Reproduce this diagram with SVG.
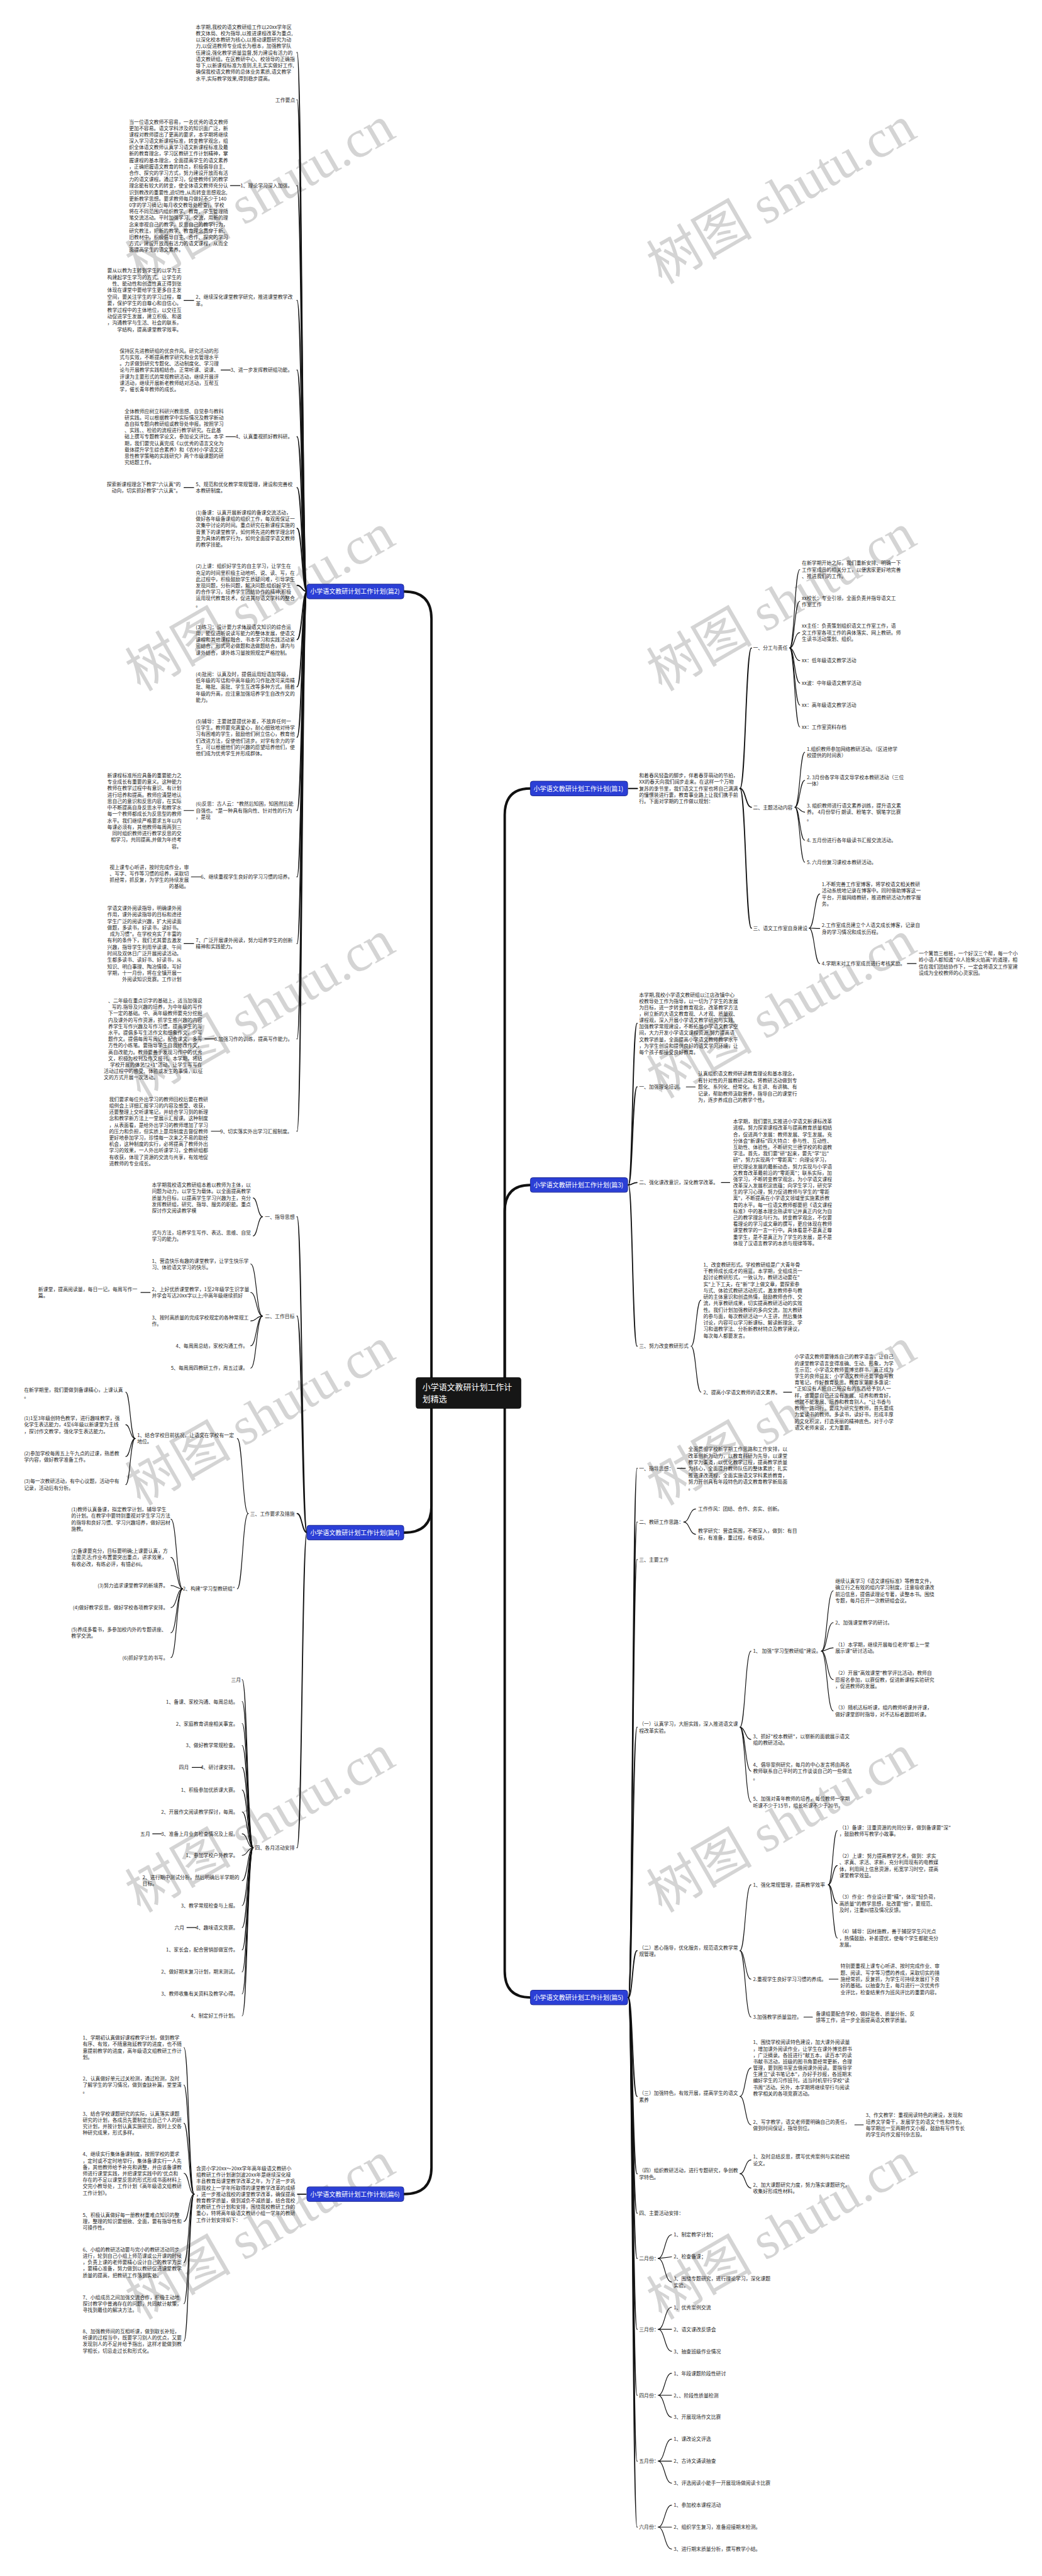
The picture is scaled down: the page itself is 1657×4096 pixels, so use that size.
<svg xmlns="http://www.w3.org/2000/svg" width="1657" height="4096" viewBox="0 0 1657 4096">
<style>
.t{font-family:"Noto Sans CJK SC","Noto Sans",sans-serif;font-size:12.2px;fill:#262626}
.e{text-anchor:end}
.nt{font-family:"Noto Sans CJK SC",sans-serif;font-size:15.5px;fill:#fff}
.ct{font-family:"Noto Sans CJK SC",sans-serif;font-size:20px;fill:#fff}
.bn{fill:#2b3fd6;stroke:#1b2790;stroke-width:1.5}
.cn{fill:#161616;stroke:#000;stroke-width:1}
.wm{font-family:"Liberation Serif","Noto Sans CJK SC",serif;font-size:130px;fill:#d4d4d4}
.l1{fill:none;stroke:#111;stroke-width:6;stroke-linecap:round}
.l2{fill:none;stroke:#111;stroke-width:2.8;stroke-linecap:round}
.l3{fill:none;stroke:#111;stroke-width:1.8;stroke-linecap:round}
</style>
<rect width="1657" height="4096" fill="#fff"/>
<g transform="scale(0.64727)">
<g id="watermarks">
<text class="wm" transform="translate(345,700) rotate(-30)">树图 shutu.cn</text>
<text class="wm" transform="translate(345,1700) rotate(-30)">树图 shutu.cn</text>
<text class="wm" transform="translate(345,2700) rotate(-30)">树图 shutu.cn</text>
<text class="wm" transform="translate(345,3700) rotate(-30)">树图 shutu.cn</text>
<text class="wm" transform="translate(345,4700) rotate(-30)">树图 shutu.cn</text>
<text class="wm" transform="translate(345,5700) rotate(-30)">树图 shutu.cn</text>
<text class="wm" transform="translate(1626,700) rotate(-30)">树图 shutu.cn</text>
<text class="wm" transform="translate(1626,1700) rotate(-30)">树图 shutu.cn</text>
<text class="wm" transform="translate(1626,2700) rotate(-30)">树图 shutu.cn</text>
<text class="wm" transform="translate(1626,3700) rotate(-30)">树图 shutu.cn</text>
<text class="wm" transform="translate(1626,4700) rotate(-30)">树图 shutu.cn</text>
<text class="wm" transform="translate(1626,5700) rotate(-30)">树图 shutu.cn</text>
</g>
<g id="connectors">
<path class="l1" d="M1060,3384 L1060,1520 Q1060,1453 992,1453"/>
<path class="l1" d="M1060,3460 L1060,3700 Q1060,3765 992,3765"/>
<path class="l1" d="M1060,3460 L1060,5325 Q1060,5390 992,5390"/>
<path class="l1" d="M1240,3384 L1240,2002 Q1240,1937 1303,1937"/>
<path class="l1" d="M1240,3384 L1240,2976 Q1240,2911 1303,2911"/>
<path class="l1" d="M1240,3460 L1240,4842 Q1240,4907 1303,4907"/>
<path class="l2" d="M754,1453 C742,1453 742,129 730,129"/>
<path class="l2" d="M754,1453 C742,1453 742,245 730,245"/>
<path class="l2" d="M754,1453 C742,1453 742,456 730,456"/>
<path class="l2" d="M754,1453 C742,1453 742,738 730,738"/>
<path class="l2" d="M754,1453 C742,1453 742,909 730,909"/>
<path class="l2" d="M754,1453 C742,1453 742,1073 730,1073"/>
<path class="l2" d="M754,1453 C742,1453 742,1198 730,1198"/>
<path class="l2" d="M754,1453 C742,1453 742,1298 730,1298"/>
<path class="l2" d="M754,1453 C742,1453 742,1438 730,1438"/>
<path class="l2" d="M754,1453 C742,1453 742,1571 730,1571"/>
<path class="l2" d="M754,1453 C742,1453 742,1687 730,1687"/>
<path class="l2" d="M754,1453 C742,1453 742,1811 730,1811"/>
<path class="l2" d="M754,1453 C742,1453 742,1991 730,1991"/>
<path class="l2" d="M754,1453 C742,1453 742,2154 730,2154"/>
<path class="l2" d="M754,1453 C742,1453 742,2318 730,2318"/>
<path class="l2" d="M754,1453 C742,1453 742,2552 730,2552"/>
<path class="l2" d="M754,1453 C742,1453 742,2779 730,2779"/>
<path class="l3" d="M590,456 L566,456"/>
<path class="l3" d="M476,738 L452,738"/>
<path class="l3" d="M566,909 L543,909"/>
<path class="l3" d="M578,1073 L555,1073"/>
<path class="l3" d="M476,1198 L452,1198"/>
<path class="l3" d="M476,1991 L452,1991"/>
<path class="l3" d="M493,2154 L470,2154"/>
<path class="l3" d="M476,2318 L452,2318"/>
<path class="l3" d="M527,2552 L503,2552"/>
<path class="l3" d="M542,2779 L519,2779"/>
<path class="l2" d="M754,3765 C742,3765 742,2989 730,2989"/>
<path class="l2" d="M754,3765 C742,3765 742,3233 730,3233"/>
<path class="l2" d="M754,3765 C742,3765 742,3718 730,3718"/>
<path class="l2" d="M754,3765 C742,3765 742,4539 730,4539"/>
<path class="l3" d="M645,2989 C633,2989 633,2943 622,2943"/>
<path class="l3" d="M645,2989 C633,2989 633,3036 622,3036"/>
<path class="l3" d="M645,3233 C630,3233 630,3105 616,3105"/>
<path class="l3" d="M645,3233 C630,3233 630,3175 616,3175"/>
<path class="l3" d="M645,3233 C630,3233 630,3245 616,3245"/>
<path class="l3" d="M645,3233 C630,3233 630,3306 616,3306"/>
<path class="l3" d="M645,3233 C630,3233 630,3361 616,3361"/>
<path class="l3" d="M369,3175 L346,3175"/>
<path class="l3" d="M610,3718 C596,3718 596,3534 583,3534"/>
<path class="l3" d="M610,3718 C596,3718 596,3903 583,3903"/>
<path class="l3" d="M332,3534 C320,3534 320,3420 309,3420"/>
<path class="l3" d="M332,3534 C320,3534 320,3500 309,3500"/>
<path class="l3" d="M332,3534 C320,3534 320,3578 309,3578"/>
<path class="l3" d="M332,3534 C320,3534 320,3647 309,3647"/>
<path class="l3" d="M449,3903 C434,3903 434,3732 420,3732"/>
<path class="l3" d="M449,3903 C434,3903 434,3826 420,3826"/>
<path class="l3" d="M449,3903 C434,3903 434,3895 420,3895"/>
<path class="l3" d="M449,3903 C434,3903 434,3949 420,3949"/>
<path class="l3" d="M449,3903 C434,3903 434,4011 420,4011"/>
<path class="l3" d="M449,3903 C434,3903 434,4072 420,4072"/>
<path class="l3" d="M622,4539 C608,4539 608,4126 595,4126"/>
<path class="l3" d="M622,4539 C608,4539 608,4180 595,4180"/>
<path class="l3" d="M622,4539 C608,4539 608,4234 595,4234"/>
<path class="l3" d="M622,4539 C608,4539 608,4288 595,4288"/>
<path class="l3" d="M622,4539 C608,4539 608,4342 595,4342"/>
<path class="l3" d="M622,4539 C608,4539 608,4397 595,4397"/>
<path class="l3" d="M622,4539 C608,4539 608,4451 595,4451"/>
<path class="l3" d="M622,4539 C608,4539 608,4505 595,4505"/>
<path class="l3" d="M622,4539 C608,4539 608,4558 595,4558"/>
<path class="l3" d="M622,4539 C608,4539 608,4620 595,4620"/>
<path class="l3" d="M622,4539 C608,4539 608,4681 595,4681"/>
<path class="l3" d="M622,4539 C608,4539 608,4735 595,4735"/>
<path class="l3" d="M622,4539 C608,4539 608,4790 595,4790"/>
<path class="l3" d="M622,4539 C608,4539 608,4844 595,4844"/>
<path class="l3" d="M622,4539 C608,4539 608,4898 595,4898"/>
<path class="l3" d="M622,4539 C608,4539 608,4952 595,4952"/>
<path class="l3" d="M496,4342 L472,4342"/>
<path class="l3" d="M397,4505 L375,4505"/>
<path class="l3" d="M482,4735 L459,4735"/>
<path class="l2" d="M752,5390 L731,5390"/>
<path class="l3" d="M477,5390 C464,5390 464,5030 452,5030"/>
<path class="l3" d="M477,5390 C464,5390 464,5122 452,5122"/>
<path class="l3" d="M477,5390 C464,5390 464,5216 452,5216"/>
<path class="l3" d="M477,5390 C464,5390 464,5339 452,5339"/>
<path class="l3" d="M477,5390 C464,5390 464,5457 452,5457"/>
<path class="l3" d="M477,5390 C464,5390 464,5558 452,5558"/>
<path class="l3" d="M477,5390 C464,5390 464,5659 452,5659"/>
<path class="l3" d="M477,5390 C464,5390 464,5751 452,5751"/>
<path class="l2" d="M1544,1937 L1566,1937"/>
<path class="l2" d="M1818,1937 C1832,1937 1832,1592 1846,1592"/>
<path class="l2" d="M1818,1937 C1832,1937 1832,1983 1846,1983"/>
<path class="l2" d="M1818,1937 C1832,1937 1832,2280 1846,2280"/>
<path class="l3" d="M1940,1592 C1952,1592 1952,1399 1965,1399"/>
<path class="l3" d="M1940,1592 C1952,1592 1952,1477 1965,1477"/>
<path class="l3" d="M1940,1592 C1952,1592 1952,1554 1965,1554"/>
<path class="l3" d="M1940,1592 C1952,1592 1952,1623 1965,1623"/>
<path class="l3" d="M1940,1592 C1952,1592 1952,1678 1965,1678"/>
<path class="l3" d="M1940,1592 C1952,1592 1952,1732 1965,1732"/>
<path class="l3" d="M1940,1592 C1952,1592 1952,1786 1965,1786"/>
<path class="l3" d="M1953,1983 C1965,1983 1965,1848 1977,1848"/>
<path class="l3" d="M1953,1983 C1965,1983 1965,1917 1977,1917"/>
<path class="l3" d="M1953,1983 C1965,1983 1965,1995 1977,1995"/>
<path class="l3" d="M1953,1983 C1965,1983 1965,2064 1977,2064"/>
<path class="l3" d="M1953,1983 C1965,1983 1965,2118 1977,2118"/>
<path class="l3" d="M1988,2280 C2001,2280 2001,2196 2014,2196"/>
<path class="l3" d="M1988,2280 C2001,2280 2001,2281 2014,2281"/>
<path class="l3" d="M1988,2280 C2001,2280 2001,2367 2014,2367"/>
<path class="l3" d="M2229,2367 L2251,2367"/>
<path class="l2" d="M1544,2911 C1554,2911 1554,2514 1565,2514"/>
<path class="l2" d="M1544,2911 C1554,2911 1554,2670 1565,2670"/>
<path class="l2" d="M1544,2911 C1554,2911 1554,2905 1565,2905"/>
<path class="l2" d="M1544,2911 C1554,2911 1554,3307 1565,3307"/>
<path class="l3" d="M1686,2670 L1708,2670"/>
<path class="l3" d="M1772,2905 L1793,2905"/>
<path class="l3" d="M1698,3307 C1710,3307 1710,3194 1722,3194"/>
<path class="l3" d="M1698,3307 C1710,3307 1710,3420 1722,3420"/>
<path class="l3" d="M1925,3420 L1945,3420"/>
<path class="l2" d="M1544,4907 C1554,4907 1554,3607 1565,3607"/>
<path class="l2" d="M1544,4907 C1554,4907 1554,3739 1565,3739"/>
<path class="l2" d="M1544,4907 C1554,4907 1554,3831 1565,3831"/>
<path class="l2" d="M1544,4907 C1554,4907 1554,4243 1565,4243"/>
<path class="l2" d="M1544,4907 C1554,4907 1554,4792 1565,4792"/>
<path class="l2" d="M1544,4907 C1554,4907 1554,5150 1565,5150"/>
<path class="l2" d="M1544,4907 C1554,4907 1554,5340 1565,5340"/>
<path class="l2" d="M1544,4907 C1554,4907 1554,5437 1565,5437"/>
<path class="l2" d="M1544,4907 C1554,4907 1554,5548 1565,5548"/>
<path class="l2" d="M1544,4907 C1554,4907 1554,5722 1565,5722"/>
<path class="l2" d="M1544,4907 C1554,4907 1554,5884 1565,5884"/>
<path class="l2" d="M1544,4907 C1554,4907 1554,6046 1565,6046"/>
<path class="l2" d="M1544,4907 C1554,4907 1554,6208 1565,6208"/>
<path class="l3" d="M1664,3607 L1684,3607"/>
<path class="l3" d="M1680,3739 C1694,3739 1694,3707 1709,3707"/>
<path class="l3" d="M1680,3739 C1694,3739 1694,3769 1709,3769"/>
<path class="l3" d="M1818,4243 C1831,4243 1831,4056 1845,4056"/>
<path class="l3" d="M1818,4243 C1831,4243 1831,4273 1845,4273"/>
<path class="l3" d="M1818,4243 C1831,4243 1831,4351 1845,4351"/>
<path class="l3" d="M1818,4243 C1831,4243 1831,4427 1845,4427"/>
<path class="l3" d="M2018,4056 C2032,4056 2032,3908 2047,3908"/>
<path class="l3" d="M2018,4056 C2032,4056 2032,3986 2047,3986"/>
<path class="l3" d="M2018,4056 C2032,4056 2032,4048 2047,4048"/>
<path class="l3" d="M2018,4056 C2032,4056 2032,4126 2047,4126"/>
<path class="l3" d="M2018,4056 C2032,4056 2032,4203 2047,4203"/>
<path class="l3" d="M1818,4792 C1831,4792 1831,4630 1845,4630"/>
<path class="l3" d="M1818,4792 C1831,4792 1831,4862 1845,4862"/>
<path class="l3" d="M1818,4792 C1831,4792 1831,4955 1845,4955"/>
<path class="l3" d="M2035,4630 C2046,4630 2046,4497 2057,4497"/>
<path class="l3" d="M2035,4630 C2046,4630 2046,4583 2057,4583"/>
<path class="l3" d="M2035,4630 C2046,4630 2046,4676 2057,4676"/>
<path class="l3" d="M2035,4630 C2046,4630 2046,4761 2057,4761"/>
<path class="l3" d="M2037,4862 L2059,4862"/>
<path class="l3" d="M1975,4955 L1996,4955"/>
<path class="l3" d="M1818,5150 C1831,5150 1831,5080 1845,5080"/>
<path class="l3" d="M1818,5150 C1831,5150 1831,5220 1845,5220"/>
<path class="l3" d="M2100,5220 L2121,5220"/>
<path class="l3" d="M1818,5340 C1831,5340 1831,5306 1845,5306"/>
<path class="l3" d="M1818,5340 C1831,5340 1831,5375 1845,5375"/>
<path class="l3" d="M1617,5548 C1633,5548 1633,5490 1650,5490"/>
<path class="l3" d="M1617,5548 L1650,5544"/>
<path class="l3" d="M1617,5548 C1633,5548 1633,5606 1650,5606"/>
<path class="l3" d="M1617,5722 C1633,5722 1633,5668 1650,5668"/>
<path class="l3" d="M1617,5722 L1650,5722"/>
<path class="l3" d="M1617,5722 C1633,5722 1633,5776 1650,5776"/>
<path class="l3" d="M1617,5884 C1633,5884 1633,5830 1650,5830"/>
<path class="l3" d="M1617,5884 L1650,5884"/>
<path class="l3" d="M1617,5884 C1633,5884 1633,5938 1650,5938"/>
<path class="l3" d="M1617,6046 C1633,6046 1633,5992 1650,5992"/>
<path class="l3" d="M1617,6046 L1650,6046"/>
<path class="l3" d="M1617,6046 C1633,6046 1633,6100 1650,6100"/>
<path class="l3" d="M1617,6208 C1633,6208 1633,6154 1650,6154"/>
<path class="l3" d="M1617,6208 L1650,6208"/>
<path class="l3" d="M1617,6208 C1633,6208 1633,6262 1650,6262"/>
</g>

<g id="root"><rect class="cn" x="1022" y="3384" width="258" height="76" rx="6"/>
<text class="ct" x="1038" y="3414">小学语文教研计划工作计</text><text class="ct" x="1038" y="3444">划精选</text></g>

<g id="p2"><rect class="bn" x="754" y="1435" width="238" height="36" rx="6"/><text class="nt" x="762" y="1459">小学语文教研计划工作计划(篇2)</text></g>
<g id="p2-items">
<text class="t" x="481" y="70.6"><tspan x="481">本学期,我校的语文教研组工作以20xx学年区</tspan><tspan x="481" dy="15.8">教文体局、校为指导,以推进课程改革为重点,</tspan><tspan x="481" dy="15.8">以深化校本教研为核心,以推动课题研究为动</tspan><tspan x="481" dy="15.8">力,以促进教师专业成长为根本，加强教学队</tspan><tspan x="481" dy="15.8">伍建设,强化教学质量监督,努力建设有活力的</tspan><tspan x="481" dy="15.8">语文教研组。在区教研中心、校领导的正确指</tspan><tspan x="481" dy="15.8">导下,以新课程标准为准则,扎扎实实做好工作,</tspan><tspan x="481" dy="15.8">确保我校语文教师的总体业务素质,语文教学</tspan><tspan x="481" dy="15.8">水平,实际教学效果,得到稳步提高。</tspan></text>
<text class="t e" x="725" y="249.6">工作要点</text>
<text class="t e" x="719" y="460.6">1、理论学习深入加强。</text>
<text class="t" x="317" y="303.6"><tspan x="317">当一位语文教师不容易，一名优秀的语文教师</tspan><tspan x="317" dy="15.75">更加不容易。语文学科涉及的知识面广泛，新</tspan><tspan x="317" dy="15.75">课程对教师提出了更高的要求，本学期将继续</tspan><tspan x="317" dy="15.75">深入学习语文新课程标准，转变教学观念，组</tspan><tspan x="317" dy="15.75">织全体语文教师认真学习语文新课程标准及最</tspan><tspan x="317" dy="15.75">新的教育理念，学习区教研工作计划精神，掌</tspan><tspan x="317" dy="15.75">握课程的基本理念，全面提高学生的语文素养</tspan><tspan x="317" dy="15.75">，正确把握语文教育的特点，积极倡导自主、</tspan><tspan x="317" dy="15.75">合作、探究的学习方式，努力建设开放而有活</tspan><tspan x="317" dy="15.75">力的语文课程。通过学习，促使教师们的教学</tspan><tspan x="317" dy="15.75">理念能有较大的转变，使全体语文教师充分认</tspan><tspan x="317" dy="15.75">识到教改的重要性,迫切性,从而转变思想观念,</tspan><tspan x="317" dy="15.75">更新教学思想。要求教师每月做好不少于140</tspan><tspan x="317" dy="15.75">0字的学习摘记(每月收交教导处检查)，学校</tspan><tspan x="317" dy="15.75">将在不同范围内组织教学、教育、学生管理随</tspan><tspan x="317" dy="15.75">笔交流活动。平时加强学习、交流，用新的理</tspan><tspan x="317" dy="15.75">念来审视自己的教学，反思自己的教学行为，</tspan><tspan x="317" dy="15.75">研究教法，把新的教学、教育理念贯穿于新、</tspan><tspan x="317" dy="15.75">旧教材中，积极倡导自主、合作、探究的学习</tspan><tspan x="317" dy="15.75">方式，建设开放而有活力的语文课程，从而全</tspan><tspan x="317" dy="15.75">面提高学生的语文素养。</tspan></text>
<text class="t" x="481" y="734.6"><tspan x="481">2、继续深化课堂教学研究，推进课堂教学改</tspan><tspan x="481" dy="15.8">革。</tspan></text>
<text class="t e" x="446" y="669.6"><tspan x="446">要从以教为主转到学生的以学为主</tspan><tspan x="446" dy="16">构建起学生学习的方式。让学生的</tspan><tspan x="446" dy="16">性、能动性和创造性真正得到张</tspan><tspan x="446" dy="16">体现在课堂中要给学生更多自主发</tspan><tspan x="446" dy="16">空间，要关注学生的学习过程，尊</tspan><tspan x="446" dy="16">要，保护学生的自尊心和自信心。</tspan><tspan x="446" dy="16">教学过程中的主体地位，以交往互</tspan><tspan x="446" dy="16">动促进学生发展，建立积极、和谐</tspan><tspan x="446" dy="16">，沟通教学与生活、社会的联系，</tspan><tspan x="446" dy="16">学结构，提高课堂教学效率。</tspan></text>
<text class="t e" x="719" y="913.6">3、进一步发挥教研组功能。</text>
<text class="t" x="294" y="866.6"><tspan x="294">保持区先进教研组的优良作风。研究活动的形</tspan><tspan x="294" dy="15.7">式与实效，不断提高教学研究和业务管理水平</tspan><tspan x="294" dy="15.7">。力求做到研究专题化、活动制度化、学习理</tspan><tspan x="294" dy="15.7">论与开展教学实践相结合。正常听课、说课、</tspan><tspan x="294" dy="15.7">评课为主要形式的常规教研活动，继续开展评</tspan><tspan x="294" dy="15.7">课活动，继续开展新老教师结对活动，互帮互</tspan><tspan x="294" dy="15.7">学，催长青年教师的成长。</tspan></text>
<text class="t e" x="719" y="1077.6">4、认真重视抓好教科研。</text>
<text class="t" x="306" y="1014.6"><tspan x="306">全体教师应树立科研兴教思想、自觉参与教科</tspan><tspan x="306" dy="15.75">研实践。可以根据教学中实际情况及教学新动</tspan><tspan x="306" dy="15.75">态自拟专题向教研组或教导处申报。按照学习</tspan><tspan x="306" dy="15.75">、实践、、检验的流程进行教学研究。在此基</tspan><tspan x="306" dy="15.75">础上撰写专题教学论文，参加论文评比。本学</tspan><tspan x="306" dy="15.75">期，我们要完认真完成《以优秀的语言文化为</tspan><tspan x="306" dy="15.75">载体提升学生综合素养》和《农村小学语文反</tspan><tspan x="306" dy="15.75">思性教学策略的实践研究》两个市级课题的研</tspan><tspan x="306" dy="15.75">究结题工作。</tspan></text>
<text class="t" x="481" y="1194.6"><tspan x="481">5、规范和优化教学常规管理，建设和完善校</tspan><tspan x="481" dy="15.8">本教研制度。</tspan></text>
<text class="t e" x="444" y="1194.6"><tspan x="444">探索新课程理念下教学"六认真"的</tspan><tspan x="444" dy="15.8">动向，切实抓好教学"六认真"。</tspan></text>
<text class="t" x="481" y="1263.6"><tspan x="481">(1)备课：认真开展新课程的备课交流活动，</tspan><tspan x="481" dy="15.8">做好各年级备课组的组织工作，每双周保证一</tspan><tspan x="481" dy="15.8">次集中讨论的时间。重点研究在新课程实施的</tspan><tspan x="481" dy="15.8">背景下的课堂教学，如何将先进的教学理念转</tspan><tspan x="481" dy="15.8">变为具体的教学行为，如何全面提学语文教师</tspan><tspan x="481" dy="15.8">的教学技能。</tspan></text>
<text class="t" x="481" y="1395.6"><tspan x="481">(2)上课：组织好学生的自主学习，让学生在</tspan><tspan x="481" dy="15.8">充足的时间里积极主动地听、说、读、写，在</tspan><tspan x="481" dy="15.8">此过程中，积极鼓励学生质疑问难，引导学生</tspan><tspan x="481" dy="15.8">发现问题，分析问题，解决问题;组织好学生</tspan><tspan x="481" dy="15.8">的合作学习，培养学生团结协作的精神;积极</tspan><tspan x="481" dy="15.8">运用现代教育技术，促进其与语文学科的整合</tspan><tspan x="481" dy="15.8">。</tspan></text>
<text class="t" x="481" y="1544.6"><tspan x="481">(3)练习：设计要力求体现语文知识的综合运</tspan><tspan x="481" dy="15.8">用，能促进听说读写能力的整体发展，使语文</tspan><tspan x="481" dy="15.8">课程和其他课程融合、书本学习和实践活动紧</tspan><tspan x="481" dy="15.8">密结合。形式可必做题和选做题结合，课内与</tspan><tspan x="481" dy="15.8">课外结合，课外练习量按照规定严格控制。</tspan></text>
<text class="t" x="481" y="1660.6"><tspan x="481">(4)批阅：认真及时，提倡运用短语加等级，</tspan><tspan x="481" dy="15.8">低年级的写话和中高年级的习作批改可采用精</tspan><tspan x="481" dy="15.8">批、略批、面批、学生互改等多种方式。随着</tspan><tspan x="481" dy="15.8">年级的升高，应注意加强培养学生自改作文的</tspan><tspan x="481" dy="15.8">能力。</tspan></text>
<text class="t" x="481" y="1776.6"><tspan x="481">(5)辅导：主要就是提优补差，不放弃任何一</tspan><tspan x="481" dy="15.8">位学生。教师要充满爱心，耐心细致地对待学</tspan><tspan x="481" dy="15.8">习有困难的学生，鼓励他们树立信心，教育他</tspan><tspan x="481" dy="15.8">们改进方法，促使他们进步。对学有余力的学</tspan><tspan x="481" dy="15.8">生，可以根据他们的兴趣的愿望培养他们，使</tspan><tspan x="481" dy="15.8">他们成为优秀学生并形成群体。</tspan></text>
<text class="t" x="481" y="1979.6"><tspan x="481">(6)反思：古人云："教然后知困，知困然后能</tspan><tspan x="481" dy="15.8">自强也。"是一种具有指向性、针对性的行为</tspan><tspan x="481" dy="15.8">，是现</tspan></text>
<text class="t e" x="446" y="1909.6"><tspan x="446">新课程标准所应具备的重要能力之</tspan><tspan x="446" dy="15.8">专业成长有重要的意义。这种能力</tspan><tspan x="446" dy="15.8">教师在教学过程中有意识、有计划</tspan><tspan x="446" dy="15.8">进行培养和提高。教师应清楚地认</tspan><tspan x="446" dy="15.8">思自己的意识和反思内容，在实际</tspan><tspan x="446" dy="15.8">中不断提高自身反思水平和教学水</tspan><tspan x="446" dy="15.8">每一个教师都成长为反思型的教师</tspan><tspan x="446" dy="15.8">水平。我们继续严格要求五年以内</tspan><tspan x="446" dy="15.8">每课必须有，其他教师每周两到三</tspan><tspan x="446" dy="15.8">同时组织教师进行教学反思的交</tspan><tspan x="446" dy="15.8">相学习，共同提高,并做为年终考</tspan><tspan x="446" dy="15.8">容。</tspan></text>
<text class="t e" x="719" y="2158.6">6、继续重视学生良好的学习习惯的培养。</text>
<text class="t e" x="464" y="2134.6"><tspan x="464">视上课专心听讲，按时完成作业，审</tspan><tspan x="464" dy="15.8">、写字、写作等习惯的培养，采取切</tspan><tspan x="464" dy="15.8">抓经常，抓反复，为学生的持续发展</tspan><tspan x="464" dy="15.8">的基础。</tspan></text>
<text class="t" x="481" y="2314.6"><tspan x="481">7、广泛开展课外阅读，努力培养学生的创新</tspan><tspan x="481" dy="15.8">精神和实践能力。</tspan></text>
<text class="t e" x="446" y="2235.6"><tspan x="446">学语文课外阅读指导，明确课外阅</tspan><tspan x="446" dy="15.9">作用，课外阅读指导的目标和途径</tspan><tspan x="446" dy="15.9">学生广泛的阅读兴趣，扩大阅读面</tspan><tspan x="446" dy="15.9">做题，多读书，好读书，读好书。</tspan><tspan x="446" dy="15.9">成为习惯"。在学校充实了丰富的</tspan><tspan x="446" dy="15.9">有利的条件下，我们尤其要去激发</tspan><tspan x="446" dy="15.9">兴趣，指导学生利用早读课、午间</tspan><tspan x="446" dy="15.9">时间及双休日广泛开展阅读活动。</tspan><tspan x="446" dy="15.9">生都多读书、读好书、好读书，从</tspan><tspan x="446" dy="15.9">知识、明白事理、陶冶情操，写好</tspan><tspan x="446" dy="15.9">学期，十一月份，将在全镇开展一</tspan><tspan x="446" dy="15.9">外阅读知识竞赛。工作计划</tspan></text>
<text class="t e" x="719" y="2556.6">8.加强习作的训练，提高写作能力。</text>
<text class="t e" x="497" y="2462.6"><tspan x="497">、二年级在重点识字的基础上，适当加强说</tspan><tspan x="497" dy="15.75">写的.指导及兴趣的培养，为中年级的写作</tspan><tspan x="497" dy="15.75">下一定的基础。中、高年级教师要充分挖掘</tspan><tspan x="497" dy="15.75">内及课外的写作资源，抓学生感兴趣的内容</tspan><tspan x="497" dy="15.75">养学生写作兴趣及写作习惯，提高学生的写</tspan><tspan x="497" dy="15.75">水平。提倡多写生活作文和想象作文，少写</tspan><tspan x="497" dy="15.75">题作文。提倡每周写周记，配合课文，多写</tspan><tspan x="497" dy="15.75">方性的小练笔。要指导学生自我修改作文，</tspan><tspan x="497" dy="15.75">高自改能力。教师要善于发现习作中的优秀</tspan><tspan x="497" dy="15.75">文，积极为校刊及作文报刊。本学期，将结</tspan><tspan x="497" dy="15.75">学校开展的体艺"2+1"活动，让学生写写在</tspan></text>
<text class="t" x="255" y="2635.6"><tspan x="255">活动过程中的感受、体验或发生的事情，以征</tspan><tspan x="255" dy="15.75">文的方式开展一次活动。</tspan></text>
<text class="t e" x="718" y="2783.6">9、切实落实外出学习汇报制度。</text>
<text class="t" x="268" y="2704.6"><tspan x="268">我们要求每位外出学习的教师回校后要在教研</tspan><tspan x="268" dy="15.8">组例会上详细汇报学习的内容及感受、收获，</tspan><tspan x="268" dy="15.8">还要整理上交听课笔记，并结合学习到的新理</tspan><tspan x="268" dy="15.8">念和教学新方法上一堂展示汇报课。这种制度</tspan><tspan x="268" dy="15.8">，从表面看，是给外出学习的教师增加了学习</tspan><tspan x="268" dy="15.8">的压力和负担，但实质上是用制度去督促教师</tspan><tspan x="268" dy="15.8">更好地参加学习，珍惜每一次来之不易的取经</tspan><tspan x="268" dy="15.8">机会，这种制度的实行，必将提高了教师外出</tspan><tspan x="268" dy="15.8">学习的效果，一人外出听课学习，全教研组都</tspan><tspan x="268" dy="15.8">有收获，体现了资源的交流与共享，有效地促</tspan><tspan x="268" dy="15.8">进教师的专业成长。</tspan></text>
</g>

<g id="p4"><rect class="bn" x="754" y="3747" width="238" height="36" rx="6"/><text class="nt" x="762" y="3771">小学语文教研计划工作计划(篇4)</text></g>
<g id="p4-items">
<text class="t e" x="724" y="2993.6">一、指导思想</text>
<text class="t" x="373" y="2915.6"><tspan x="373">本学期我校语文教研组本着以教师为主体，以</tspan><tspan x="373" dy="15.8">问题为动力，以学生为载体。以全面提高教学</tspan><tspan x="373" dy="15.8">质量为目标，以提高学生学习兴趣为主，充分</tspan><tspan x="373" dy="15.8">发挥教研组，研究、指导、服务的职能。重点</tspan><tspan x="373" dy="15.8">探讨作文阅读教学模</tspan></text>
<text class="t" x="373" y="3032.6"><tspan x="373">式与方法，培养学生写作、表达、思维、自觉</tspan><tspan x="373" dy="15.8">学习的能力。</tspan></text>
<text class="t e" x="724" y="3237.6">二、工作目标</text>
<text class="t" x="373" y="3101.6"><tspan x="373">1、营造快乐有趣的课堂教学，让学生快乐学</tspan><tspan x="373" dy="15.8">习、体验语文学习的快乐。</tspan></text>
<text class="t" x="373" y="3171.6"><tspan x="373">2、上好优质课堂教学，1至2年级学生识字量</tspan><tspan x="373" dy="15.8">并学会写达20xx字以上;中高年级继续抓好</tspan></text>
<text class="t" x="94" y="3171.6"><tspan x="94">新课堂，提高阅读量，每日一记，每周写作一</tspan><tspan x="94" dy="15.8">篇。</tspan></text>
<text class="t" x="373" y="3241.6"><tspan x="373">3、按时高质量的完成学校规定的各种常规工</tspan><tspan x="373" dy="15.8">作。</tspan></text>
<text class="t e" x="609" y="3310.6">4、每周周总结，家校沟通工作。</text>
<text class="t e" x="609" y="3365.6">5、每周周四教研工作，周五过课。</text>
<text class="t e" x="724" y="3722.6">三、工作要求及措施</text>
<text class="t" x="337" y="3530.6"><tspan x="337">1、结合学校目前状况，让语文在学校有一定</tspan><tspan x="337" dy="15.8">地位。</tspan></text>
<text class="t" x="59" y="3418.6"><tspan x="59">在新学期里，我们要做到备课精心，上课认真</tspan><tspan x="59" dy="15.8">。</tspan></text>
<text class="t" x="59" y="3488.6"><tspan x="59">(1)1至3年级创特色教学，进行趣味教学，强</tspan><tspan x="59" dy="15.8">化学生表达能力，4至6年级以新课堂为主线</tspan><tspan x="59" dy="15.8">，探讨作文教学，强化学生表达能力。</tspan></text>
<text class="t" x="59" y="3574.6"><tspan x="59">(2)参加学校每周五上午九点的过课，熟悉教</tspan><tspan x="59" dy="15.8">学内容，做好教学准备工作。</tspan></text>
<text class="t" x="59" y="3643.6"><tspan x="59">(3)每一次教研活动，有中心议题，活动中有</tspan><tspan x="59" dy="15.8">记录，活动后有分析。</tspan></text>
<text class="t e" x="577" y="3907.6">2、构建"学习型教研组"</text>
<text class="t" x="175" y="3712.6"><tspan x="175">(1)教师认真备课，拟定教学计划，辅导学生</tspan><tspan x="175" dy="15.8">的计划。在教学中要特别重视对学生学习方法</tspan><tspan x="175" dy="15.8">的指导和良好习惯、学习兴趣培养，做好因材</tspan><tspan x="175" dy="15.8">施教。</tspan></text>
<text class="t" x="175" y="3814.6"><tspan x="175">(2)备课要充分，目标要明确;上课要认真，方</tspan><tspan x="175" dy="15.8">法要灵活;作业布置要突出重点，讲求效果，</tspan><tspan x="175" dy="15.8">有收必改，有练必评，有错必纠。</tspan></text>
<text class="t e" x="413" y="3899.6">(3)努力追求课堂教学的新境界。</text>
<text class="t e" x="413" y="3953.6">(4)做好教学反思，做好学校各项教学安排。</text>
<text class="t" x="175" y="4007.6"><tspan x="175">(5)养成多看书，多参加校内外的专题讲座、</tspan><tspan x="175" dy="15.8">教学交流。</tspan></text>
<text class="t e" x="413" y="4076.6">(6)抓好学生的书写。</text>
<text class="t e" x="724" y="4543.6">四、各月活动安排</text>
<text class="t e" x="592" y="4130.6">三月</text>
<text class="t e" x="585" y="4184.6">1、备课、家校沟通、每周总结。</text>
<text class="t e" x="585" y="4238.6">2、家庭教育讲座相关事宜。</text>
<text class="t e" x="585" y="4292.6">3、做好教学常规检查。</text>
<text class="t e" x="585" y="4346.6">4、研讨课安排。</text>
<text class="t e" x="464" y="4346.6">四月</text>
<text class="t e" x="585" y="4401.6">1、积极参加优质课大赛。</text>
<text class="t e" x="585" y="4455.6">2、开展作文阅读教学探讨，每周。</text>
<text class="t e" x="585" y="4509.6">3、准备上月业务检查情况及上报。</text>
<text class="t e" x="369" y="4509.6">五月</text>
<text class="t e" x="585" y="4562.6">1、参加学校户外教学。</text>
<text class="t" x="350" y="4616.6"><tspan x="350">2、进行期中测试分析，然后明确后半学期的</tspan><tspan x="350" dy="15.8">目标。</tspan></text>
<text class="t e" x="585" y="4685.6">3、教学常规检查与上报。</text>
<text class="t e" x="585" y="4739.6">4、趣味语文竞赛。</text>
<text class="t e" x="453" y="4739.6">六月</text>
<text class="t e" x="585" y="4794.6">1、家长会，配合营销部做宣传。</text>
<text class="t e" x="585" y="4848.6">2、做好期末复习计划，期末测试。</text>
<text class="t e" x="585" y="4902.6">3、教师收集有关资料及教学心得。</text>
<text class="t e" x="585" y="4956.6">4、制定好工作计划。</text>
</g>

<g id="p6"><rect class="bn" x="754" y="5372" width="238" height="36" rx="6"/><text class="nt" x="762" y="5396">小学语文教研计划工作计划(篇6)</text></g>
<g id="p6-items">
<text class="t" x="482" y="5331.6"><tspan x="482">含资小学20xx～20xx学年高年级语文教研小</tspan><tspan x="482" dy="15.75">组教研工作计划谢剑波20xx年是继续深化禄</tspan><tspan x="482" dy="15.75">丰县教育局课堂教学改革之年，为了进一步巩</tspan><tspan x="482" dy="15.75">固我校上一学年所取得的课堂教学改革的成绩</tspan><tspan x="482" dy="15.75">，进一步推动我校的课堂教学改革，确保提高</tspan><tspan x="482" dy="15.75">教育教学质量，做到减负不减质量，结合我校</tspan><tspan x="482" dy="15.75">的教研工作计划和安排，围绕我校教研工作的</tspan><tspan x="482" dy="15.75">重心，特将高年级语文教研小组一学年的教研</tspan><tspan x="482" dy="15.75">工作计划安排如下：</tspan></text>
<text class="t" x="203" y="5010.6"><tspan x="203">1、学期初认真做好课程教学计划，做到教学</tspan><tspan x="203" dy="15.8">有序、有效，不随意拖延教学的进度，也不随</tspan><tspan x="203" dy="15.8">意提前教学的进度，高年级语文组教研工作计</tspan><tspan x="203" dy="15.8">划。</tspan></text>
<text class="t" x="203" y="5110.6"><tspan x="203">2、认真做好单元过关检测，通过检测，及时</tspan><tspan x="203" dy="15.8">了解学生的学习情况，做到查缺补漏，堂堂清</tspan><tspan x="203" dy="15.8">。</tspan></text>
<text class="t" x="203" y="5196.6"><tspan x="203">3、结合学校课题研究的实际，认真落实课题</tspan><tspan x="203" dy="15.8">研究的计划，各成员先要制定出自己个人的研</tspan><tspan x="203" dy="15.8">究计划，并按计划认真实施研究，按时上交各</tspan><tspan x="203" dy="15.8">种研究成果，形式多样。</tspan></text>
<text class="t" x="203" y="5296.6"><tspan x="203">4、继续实行集体备课制度，按照学校的要求</tspan><tspan x="203" dy="15.8">，定时或不定时地举行，集体备课实行一人先</tspan><tspan x="203" dy="15.8">备，其他教师给予补充和调整，并由该备课教</tspan><tspan x="203" dy="15.8">师进行课堂实践，并把课堂实践中的'优点和</tspan><tspan x="203" dy="15.8">存在的不足以课堂反思的形式形成书面材料上</tspan><tspan x="203" dy="15.8">交完小教导处，工作计划《高年级语文组教研</tspan><tspan x="203" dy="15.8">工作计划》。</tspan></text>
<text class="t" x="203" y="5445.6"><tspan x="203">5、积极认真做好每一册教材重难点知识的整</tspan><tspan x="203" dy="15.8">理，整理的知识要细致、全面，要有指导性和</tspan><tspan x="203" dy="15.8">可操作性。</tspan></text>
<text class="t" x="203" y="5530.6"><tspan x="203">6、小组的教研活动要与完小的教研活动同步</tspan><tspan x="203" dy="15.8">进行，轮到自己小组上师范课或公开课的时候</tspan><tspan x="203" dy="15.8">，负责上课的老师要精心设计自己的教学方案</tspan><tspan x="203" dy="15.8">，要精心准备，努力做到以教研促进课堂教学</tspan><tspan x="203" dy="15.8">质量的提高，把教研工作落到实处。</tspan></text>
<text class="t" x="203" y="5647.6"><tspan x="203">7、小组成员之间加强交流合作，积极主动地</tspan><tspan x="203" dy="15.8">探讨教学中普遍存在的问题，共同献计献策，</tspan><tspan x="203" dy="15.8">寻找到最佳的解决方法。</tspan></text>
<text class="t" x="203" y="5731.6"><tspan x="203">8、加强教师间的互相听课，做到取长补短，</tspan><tspan x="203" dy="15.8">听课的过程当中，既要学习别人的优点，又要</tspan><tspan x="203" dy="15.8">发现别人的不足并给予指出，这样才能做到教</tspan><tspan x="203" dy="15.8">学相长，切忌走过长和形式化。</tspan></text>
</g>

<g id="p1"><rect class="bn" x="1303" y="1919" width="239" height="36" rx="6"/><text class="nt" x="1311" y="1943">小学语文教研计划工作计划(篇1)</text></g>
<g id="p1-items">
<text class="t" x="1570" y="1909.6"><tspan x="1570">和着春风轻盈的脚步，伴着春芽萌动的节拍，</tspan><tspan x="1570" dy="16">XX的春天向我们阔步走来。在这样一个万物</tspan><tspan x="1570" dy="16">复苏的季节里，我们语文工作室也将自己满满</tspan><tspan x="1570" dy="16">的憧憬装进行囊，教育事业路上让我们携手前</tspan><tspan x="1570" dy="16">行。下面对学期的工作做以规划：</tspan></text>
<text class="t" x="1850" y="1596.6">一、分工与责任</text>
<text class="t" x="1970" y="1387.6"><tspan x="1970">在新学期开始之际，我们重新安排、明确一下</tspan><tspan x="1970" dy="16">工作室成员的相关分工，以便大家更好地完善</tspan><tspan x="1970" dy="16">、推进我们的工作。</tspan></text>
<text class="t" x="1970" y="1473.6"><tspan x="1970">xx校长：专业引领，全面负责并指导语文工</tspan><tspan x="1970" dy="16">作室工作</tspan></text>
<text class="t" x="1970" y="1542.6"><tspan x="1970">xx主任：负责策划组织语文工作室工作，语</tspan><tspan x="1970" dy="16">文工作室各项工作的具体落实、网上教研。师</tspan><tspan x="1970" dy="16">生读书活动策划、组织。</tspan></text>
<text class="t" x="1970" y="1627.6">xx：低年级语文教学活动</text>
<text class="t" x="1970" y="1682.6">xx波：中年级语文教学活动</text>
<text class="t" x="1970" y="1736.6">xx：高年级语文教学活动</text>
<text class="t" x="1970" y="1790.6">xx：工作室资料存档</text>
<text class="t" x="1850" y="1987.6">二、主题活动内容</text>
<text class="t" x="1982" y="1844.6"><tspan x="1982">1.组织教师参加网络教研活动。（区进修学</tspan><tspan x="1982" dy="16">校提供的时间表）</tspan></text>
<text class="t" x="1982" y="1913.6"><tspan x="1982">2. 3月份各学年语文导学校本教研活动（三位</tspan><tspan x="1982" dy="16">一体）</tspan></text>
<text class="t" x="1982" y="1983.6"><tspan x="1982">3. 组织教师进行语文素养训练，提升语文素</tspan><tspan x="1982" dy="16">养。 4月份举行 朗读、粉笔字、钢笔字比赛</tspan><tspan x="1982" dy="16">。</tspan></text>
<text class="t" x="1982" y="2068.6">4. 五月份进行各年级读书汇报交流活动。</text>
<text class="t" x="1982" y="2122.6">5. 六月份复习课校本教研活动。</text>
<text class="t" x="1850" y="2284.6">三、语文工作室自身建设</text>
<text class="t" x="2019" y="2176.6"><tspan x="2019">1.不断完善工作室博客，将学校语文相关教研</tspan><tspan x="2019" dy="16">活动系统地记录在博客中。同时借助博客这一</tspan><tspan x="2019" dy="16">平台，开展网络教研，推进教研活动为教学服</tspan><tspan x="2019" dy="16">务。</tspan></text>
<text class="t" x="2019" y="2277.6"><tspan x="2019">2.工作室成员建立个人语文成长博客，记录自</tspan><tspan x="2019" dy="16">身的学习情况和成长历程。</tspan></text>
<text class="t" x="2019" y="2371.6">4.学期末对工作室成员进行考核奖励。</text>
<text class="t" x="2257" y="2346.6"><tspan x="2257">一个篱笆三根桩，一个好汉三个帮，每一个小</tspan><tspan x="2257" dy="16">岭小语人都知道"众人拾柴火焰高"的道理，相</tspan><tspan x="2257" dy="16">信在我们团结协作下，一定会将语文工作室建</tspan><tspan x="2257" dy="16">设成为全校教师的心灵家园。</tspan></text>
</g>

<g id="p3"><rect class="bn" x="1303" y="2893" width="239" height="36" rx="6"/><text class="nt" x="1311" y="2917">小学语文教研计划工作计划(篇3)</text></g>
<g id="p3-items">
<text class="t" x="1570" y="2448.6"><tspan x="1570">本学期,我校小学语文教研组以江店孜镇中心</tspan><tspan x="1570" dy="15.6">校教导处工作为指导，以一切为了学生的发展</tspan><tspan x="1570" dy="15.6">为目标，进一步转变教育观念，改革教学方法</tspan><tspan x="1570" dy="15.6">，树立新的大语文教育观、人才观、质量观、</tspan><tspan x="1570" dy="15.6">课程观，深入开展小学语文教学研究与实践,</tspan><tspan x="1570" dy="15.6">加强教学常规建设，不断拓展小学语文教学空</tspan><tspan x="1570" dy="15.6">间，大力开发小学语文课程资源,努力提高语</tspan><tspan x="1570" dy="15.6">文教学质量，全面提高小学语文教师教学水平</tspan><tspan x="1570" dy="15.6">，为学生创设和提供良好的语文学习环境，让</tspan><tspan x="1570" dy="15.6">每个孩子都接受良好教育。</tspan></text>
<text class="t" x="1570" y="2674.6">一、加强理论培训。</text>
<text class="t" x="1715" y="2642.6"><tspan x="1715">认真组织语文教师研读教育理论和基本理念，</tspan><tspan x="1715" dy="16">有针对性的开展教研活动，将教研活动做到专</tspan><tspan x="1715" dy="16">题化、系列化、经常化。有主讲、有讲稿、有</tspan><tspan x="1715" dy="16">记录，帮助教师汲取营养，指导自己的课堂行</tspan><tspan x="1715" dy="16">为，逐步养成自己的教学个性。</tspan></text>
<text class="t" x="1570" y="2909.6">二、强化课改意识，深化教学改革。</text>
<text class="t" x="1801" y="2759.6"><tspan x="1801">本学期，我们要扎实推进小学语文新课标改革</tspan><tspan x="1801" dy="15.74">进程。努力探索课程改革与提高教育质量相结</tspan><tspan x="1801" dy="15.74">合，促进两个发展：教师发展、学生发展。充</tspan><tspan x="1801" dy="15.74">分体会"新课标"四大特点：参与性、互动性、</tspan><tspan x="1801" dy="15.74">互助性、体验性。不断研究兰德学校的和谐教</tspan><tspan x="1801" dy="15.74">学法。首先，我们要"研"起来，要先"学"后"</tspan><tspan x="1801" dy="15.74">研"，努力实现两个"零距离"：向理论学习，</tspan><tspan x="1801" dy="15.74">研究理论发展的最新动态，努力实现与小学语</tspan><tspan x="1801" dy="15.74">文教育改革最前沿的"零距离"；联系实际，加</tspan><tspan x="1801" dy="15.74">强学习，不断转变教学观念，为小学语文课程</tspan><tspan x="1801" dy="15.74">改革深入发展积淀底蕴；向学生学习，研究学</tspan><tspan x="1801" dy="15.74">生的学习心理，努力促进教师与学生的"零距</tspan><tspan x="1801" dy="15.74">离"，不断提高在小学语文领域里实施素质教</tspan><tspan x="1801" dy="15.74">育的水平。每一位语文教师都要把《语文课程</tspan><tspan x="1801" dy="15.74">标准》中的基本理念熟读牢记并真正内化为自</tspan><tspan x="1801" dy="15.74">己的教学理念与行为。转变教学观念，不仅要</tspan><tspan x="1801" dy="15.74">看理论的学习或文章的撰写，更应体现在教师</tspan><tspan x="1801" dy="15.74">课堂教学的一言一行中。具体看是不是真正尊</tspan><tspan x="1801" dy="15.74">重学生，是不是真正为了学生的发展，是不是</tspan><tspan x="1801" dy="15.74">体现了汉语言教学的本质与规律等等。</tspan></text>
<text class="t" x="1570" y="3311.6">三、努力改变教研形式</text>
<text class="t" x="1728" y="3111.6"><tspan x="1728">1、改变教研形式。学校教研组是广大青年骨</tspan><tspan x="1728" dy="15.8">干教师成长成才的摇篮。本学期，全组成员一</tspan><tspan x="1728" dy="15.8">起讨论教研形式，一致认为，教研活动要在"</tspan><tspan x="1728" dy="15.8">实"上下工夫，在"新"字上做文章，要探索参</tspan><tspan x="1728" dy="15.8">与式、体验式教研活动形式，激发教师参与教</tspan><tspan x="1728" dy="15.8">研的主体意识和创造热情，鼓励教师合作、交</tspan><tspan x="1728" dy="15.8">流，共享教研成果，切实提高教研活动的实效</tspan><tspan x="1728" dy="15.8">性。我们计划加强教研的多向交流，加大教研</tspan><tspan x="1728" dy="15.8">的参与面，每次教研活动一人主讲，然后集体</tspan><tspan x="1728" dy="15.8">讨论，内容可以学习新课标、解读新理念、学</tspan><tspan x="1728" dy="15.8">习和谐教学法、分析新教材特点及教学建议，</tspan><tspan x="1728" dy="15.8">每次每人都要发言。</tspan></text>
<text class="t" x="1728" y="3424.6">2、提高小学语文教师的语文素养。</text>
<text class="t" x="1952" y="3337.6"><tspan x="1952">小学语文教师要锤炼自己的教学语言，让自己</tspan><tspan x="1952" dy="15.8">的课堂教学语言变得准确、生动、形象，为学</tspan><tspan x="1952" dy="15.8">生示范；小学语文教师要博览群书，真正成为</tspan><tspan x="1952" dy="15.8">学生的良师益友；小学语文教师还要学会写教</tspan><tspan x="1952" dy="15.8">育笔记，作好教育反思。教育家第斯多惠说：</tspan><tspan x="1952" dy="15.8">"正如没有人把自己所没有的东西给予别人一</tspan><tspan x="1952" dy="15.8">样，谁要是自己还没有发展、培养和教育好，</tspan><tspan x="1952" dy="15.8">他就不能发展、培养和教育别人。"让书香与</tspan><tspan x="1952" dy="15.8">教师一路同行。要成为研究型教师，首先要成</tspan><tspan x="1952" dy="15.8">为爱读书的教师。多读书，读好书，形成丰厚</tspan><tspan x="1952" dy="15.8">的文化积淀，打造亮丽的精神底色，对于小学</tspan><tspan x="1952" dy="15.8">语文老师来说，尤为重要。</tspan></text>
</g>

<g id="p5"><rect class="bn" x="1303" y="4889" width="239" height="36" rx="6"/><text class="nt" x="1311" y="4913">小学语文教研计划工作计划(篇5)</text></g>
<g id="p5-items">
<text class="t" x="1570" y="3611.6">一、指导思想：</text>
<text class="t" x="1691" y="3564.6"><tspan x="1691">全面贯彻学校新学期工作思路和工作安排，以</tspan><tspan x="1691" dy="16">改革创新为动力，以教育科研为先导，以课堂</tspan><tspan x="1691" dy="16">教学为渠道，以优化教学过程，提高教学质量</tspan><tspan x="1691" dy="16">为核心，全面提升教师队伍的整体素质；扎实</tspan><tspan x="1691" dy="16">推进课改进程，全面实施语文学科素质教育，</tspan><tspan x="1691" dy="16">努力开创具有年段特色的语文教育教学新局面</tspan><tspan x="1691" dy="16">。</tspan></text>
<text class="t" x="1570" y="3743.6">二、教研工作思路：</text>
<text class="t" x="1715" y="3711.6">工作作风：团结、合作、务实、创新。</text>
<text class="t" x="1715" y="3765.6"><tspan x="1715">教学研究：营造氛围，不断深入，做到：有目</tspan><tspan x="1715" dy="16">标，有准备，重过程，有收获。</tspan></text>
<text class="t" x="1570" y="3835.6">三、主要工作</text>
<text class="t" x="1570" y="4239.6"><tspan x="1570">（一）认真学习，大胆实践，深入推进语文课</tspan><tspan x="1570" dy="16">程改革实验。</tspan></text>
<text class="t" x="1850" y="4060.6">1、 加强"学习型教研组"建设。</text>
<text class="t" x="2052" y="3888.6"><tspan x="2052">继续认真学习《语文课程标准》等教育文件，</tspan><tspan x="2052" dy="16">确立行之有效的组内学习制度，注意吸收课改</tspan><tspan x="2052" dy="16">前沿信息，提倡读理论专著，读整本书。围绕</tspan><tspan x="2052" dy="16">专题，每月召开一次教研组会议。</tspan></text>
<text class="t" x="2052" y="3990.6">2、加强课堂教学的研讨。</text>
<text class="t" x="2052" y="4044.6"><tspan x="2052">（1）本学期，继续开展每位老师"都上一堂</tspan><tspan x="2052" dy="16">展示课"研讨活动。</tspan></text>
<text class="t" x="2052" y="4114.6"><tspan x="2052">（2）开展"高效课堂"教学评比活动，教师自</tspan><tspan x="2052" dy="16">愿报名参加，以赛促教，促进新课程实验研究</tspan><tspan x="2052" dy="16">，促进教师的发展。</tspan></text>
<text class="t" x="2052" y="4199.6"><tspan x="2052">（3）随机达标听课，组内教师听课并评课，</tspan><tspan x="2052" dy="16">做好课堂即时指导，对不达标者跟踪听课。</tspan></text>
<text class="t" x="1850" y="4269.6"><tspan x="1850">3、抓好"校本教研"，以崭新的面貌展示语文</tspan><tspan x="1850" dy="16">组的教研活动。</tspan></text>
<text class="t" x="1850" y="4339.6"><tspan x="1850">4、倡导案例研究，每月的中心发言将由两名</tspan><tspan x="1850" dy="16">教师联系自己平时的工作谈谈自己的一些做法</tspan><tspan x="1850" dy="16">。</tspan></text>
<text class="t" x="1850" y="4423.6"><tspan x="1850">5、加强对青年教师的培养，每位教师一学期</tspan><tspan x="1850" dy="16">听课不少于15节，组长听课不少于20节。</tspan></text>
<text class="t" x="1570" y="4788.6"><tspan x="1570">（二）悉心指导，优化服务，规范语文教学常</tspan><tspan x="1570" dy="16">规管理。</tspan></text>
<text class="t" x="1850" y="4634.6">1、强化常规管理，提高教学效率</text>
<text class="t" x="2062" y="4493.6"><tspan x="2062">（1）备课：注重资源的共同分享，做到备课要"深"</tspan><tspan x="2062" dy="16">，鼓励教师写教学小故事。</tspan></text>
<text class="t" x="2062" y="4563.6"><tspan x="2062">（2）上课：努力提高教学艺术，做到：求实</tspan><tspan x="2062" dy="16">、求真、求活、求新，充分利用现有的电教媒</tspan><tspan x="2062" dy="16">体，利用网上信息资源，拓宽学习时空，提高</tspan><tspan x="2062" dy="16">课堂教学效益。</tspan></text>
<text class="t" x="2062" y="4664.6"><tspan x="2062">（3）作业：作业设计要"精"，体现"轻负荷，</tspan><tspan x="2062" dy="16">高质量"的教学思想，批改要"细"，要规范、</tspan><tspan x="2062" dy="16">及时，注重纠错及情况反馈。</tspan></text>
<text class="t" x="2062" y="4749.6"><tspan x="2062">（4）辅导：因材施教，善于捕捉学生闪光点</tspan><tspan x="2062" dy="16">，热情鼓励，补差提优，使每个学生都能充分</tspan><tspan x="2062" dy="16">发展。</tspan></text>
<text class="t" x="1850" y="4866.6">2.重视学生良好学习习惯的养成。</text>
<text class="t" x="2065" y="4834.6"><tspan x="2065">特别要重视上课专心听讲、按时完成作业、审</tspan><tspan x="2065" dy="16">题、阅读、写字等习惯的养成，采取切实的措</tspan><tspan x="2065" dy="16">施经常抓，反复抓，为学生可持续发展打下良</tspan><tspan x="2065" dy="16">好的基础。以抽查为主，每月进行一次优秀作</tspan><tspan x="2065" dy="16">业评比，检查结果作为班风评比的重要内容。</tspan></text>
<text class="t" x="1850" y="4959.6">3.加强教学质量监控。</text>
<text class="t" x="2004" y="4951.6"><tspan x="2004">备课组要配合学校，做好批卷、质量分析、反</tspan><tspan x="2004" dy="16">馈等工作，进一步全面提高语文教学质量。</tspan></text>
<text class="t" x="1570" y="5146.6"><tspan x="1570">（三）加强特色，有效开展，提高学生的语文</tspan><tspan x="1570" dy="16">素养</tspan></text>
<text class="t" x="1850" y="5021.6"><tspan x="1850">1、围绕学校阅读特色建设，加大课外阅读量</tspan><tspan x="1850" dy="15.75">，增加课外阅读作业，让学生在课外博览群书</tspan><tspan x="1850" dy="15.75">，广泛摘录。各班进行"献五本，读百本"的读</tspan><tspan x="1850" dy="15.75">书献书活动，班级的图书角要经常更新，合理</tspan><tspan x="1850" dy="15.75">管理，要到图书室去借阅课外阅读。要指导学</tspan><tspan x="1850" dy="15.75">生建立"读书笔记本"，办好手抄报，各班期末</tspan><tspan x="1850" dy="15.75">编好学生的习作班刊，适当时机举行学校"读</tspan><tspan x="1850" dy="15.75">书周"活动。另外，本学期将继续举行与阅读</tspan><tspan x="1850" dy="15.75">教学相关的各项竞赛活动。</tspan></text>
<text class="t" x="1850" y="5216.6"><tspan x="1850">2、写字教学，语文老师要明确自己的责任，</tspan><tspan x="1850" dy="16">做到时间保证，指导到位。</tspan></text>
<text class="t" x="2127" y="5200.6"><tspan x="2127">3、作文教学：重视阅读特色的建设，发现和</tspan><tspan x="2127" dy="16">培养文学骨干，发展学生的语文个性和特长。</tspan><tspan x="2127" dy="16">每学期出一至两期作文小报，鼓励有写作专长</tspan><tspan x="2127" dy="16">的学生向作文报刊杂志投。</tspan></text>
<text class="t" x="1570" y="5336.6"><tspan x="1570">（四）组织教研活动，进行专题研究，争创教</tspan><tspan x="1570" dy="16">学特色。</tspan></text>
<text class="t" x="1850" y="5302.6"><tspan x="1850">1、及时总结反思，撰写优秀案例与实验经验</tspan><tspan x="1850" dy="16">论文。</tspan></text>
<text class="t" x="1850" y="5371.6"><tspan x="1850">2、加大课题研究力度，努力落实课题研究，</tspan><tspan x="1850" dy="16">收集好形成性材料。</tspan></text>
<text class="t" x="1570" y="5441.6">四、主要活动安排：</text>
<text class="t" x="1570" y="5552.6">二月份：</text>
<text class="t" x="1655" y="5494.6">1、制定教学计划；</text>
<text class="t" x="1655" y="5548.6">2、检查备课；</text>
<text class="t" x="1655" y="5602.6"><tspan x="1655">3、围绕专题研究，进行理论学习，深化课题</tspan><tspan x="1655" dy="16">实验。</tspan></text>
<text class="t" x="1570" y="5726.6">三月份：</text>
<text class="t" x="1655" y="5672.6">1、优秀案例交流</text>
<text class="t" x="1655" y="5726.6">2、语文课改反馈会</text>
<text class="t" x="1655" y="5780.6">3、抽查班级作业情况</text>
<text class="t" x="1570" y="5888.6">四月份：</text>
<text class="t" x="1655" y="5834.6">1、年段课题阶段性研讨</text>
<text class="t" x="1655" y="5888.6">2、、阶段性质量检测</text>
<text class="t" x="1655" y="5942.6">3、开展现场作文比赛</text>
<text class="t" x="1570" y="6050.6">五月份：</text>
<text class="t" x="1655" y="5996.6">1、课改论文评选</text>
<text class="t" x="1655" y="6050.6">2、古诗文诵读抽查</text>
<text class="t" x="1655" y="6104.6">3、评选阅读小能手一开展现场做阅读卡比赛</text>
<text class="t" x="1570" y="6212.6">六月份：</text>
<text class="t" x="1655" y="6158.6">1、参加校本课程活动</text>
<text class="t" x="1655" y="6212.6">2、组织学生复习，准备迎接期末检测。</text>
<text class="t" x="1655" y="6266.6">3、进行期末质量分析，撰写教学小结。</text>
</g>
</g>
</svg>
